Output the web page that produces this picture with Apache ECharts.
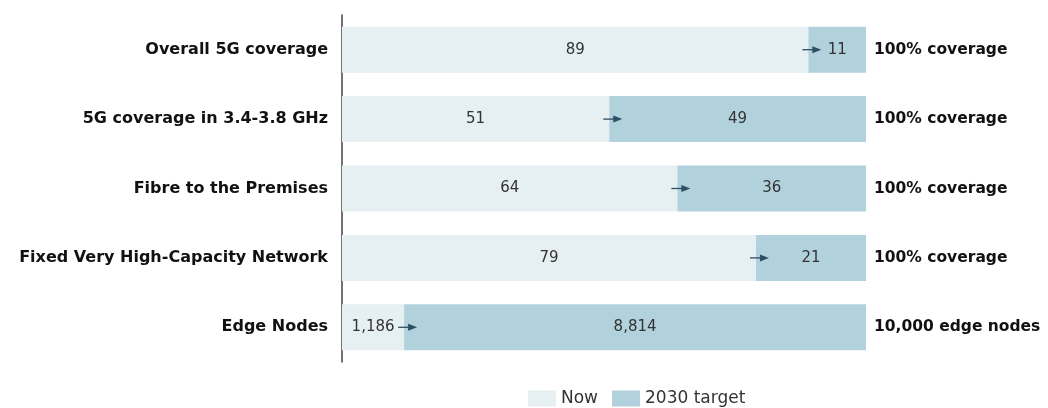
<!DOCTYPE html>
<html>
<head>
<meta charset="utf-8">
<script src="https://cdn.jsdelivr.net/npm/echarts@6/dist/echarts.min.js"></script>
<style>
  html, body { margin: 0; padding: 0; background: #fff; }
  #chart { width: 1048px; height: 408px; }
</style>
</head>
<body>
<div id="chart"></div>
<script>
// data
var categories = [
  'Overall 5G coverage',
  '5G coverage in 3.4-3.8 GHz',
  'Fibre to the Premises',
  'Fixed Very High-Capacity Network',
  'Edge Nodes'
];
var nowValues = [89, 51, 64, 79, 1186];
var targetValues = [11, 49, 36, 21, 8814];
var targetLabels = ['100% coverage', '100% coverage', '100% coverage', '100% coverage', '10,000 edge nodes'];

// each row is drawn as share of its own target total
var nowShare = nowValues.map(function (v, i) { return v / (v + targetValues[i]) * 100; });
var targetShare = targetValues.map(function (v, i) { return v / (nowValues[i] + v) * 100; });

var fontFam = 'DejaVu Sans';

var myChart = echarts.init(document.getElementById('chart'));
myChart.setOption({
  animation: false,
  textStyle: { fontFamily: fontFam },
  grid: { left: 342, right: 182, top: 15, bottom: 46 },
  legend: {
    data: ['Now', '2030 target'],
    top: 385,
    left: 523,
    icon: 'rect',
    itemWidth: 28,
    itemHeight: 16,
    itemGap: 14,
    textStyle: { fontSize: 17, color: '#333', fontFamily: fontFam }
  },
  xAxis: { type: 'value', min: 0, max: 100, show: false },
  yAxis: [
    {
      type: 'category',
      data: categories,
      inverse: true,
      position: 'left',
      axisLine: { show: true, lineStyle: { color: '#444', width: 1.5 } },
      axisTick: { show: false },
      axisLabel: { fontSize: 16, fontWeight: 'bold', color: '#111', margin: 14 }
    },
    {
      type: 'category',
      data: targetLabels,
      inverse: true,
      position: 'right',
      axisLine: { show: false },
      axisTick: { show: false },
      axisLabel: { fontSize: 15.5, fontWeight: 'bold', color: '#111', margin: 8 }
    }
  ],
  series: [
    {
      name: 'Now',
      type: 'bar',
      stack: 'total',
      barWidth: 46,
      data: nowShare,
      itemStyle: { color: '#e6eff2' },
      label: {
        show: true,
        position: 'inside',
        fontSize: 15,
        color: '#333',
        formatter: function (p) { return nowValues[p.dataIndex].toLocaleString('en-US'); }
      }
    },
    {
      name: '2030 target',
      type: 'bar',
      stack: 'total',
      barWidth: 46,
      data: targetShare,
      itemStyle: { color: '#b1d1dc' },
      label: {
        show: true,
        position: 'inside',
        fontSize: 15,
        color: '#333',
        formatter: function (p) { return targetValues[p.dataIndex].toLocaleString('en-US'); }
      }
    },
    {
      // small arrows at the boundary between now and target
      name: 'arrows',
      type: 'custom',
      data: nowShare.map(function (v, i) { return [v, i]; }),
      z: 10,
      renderItem: function (params, api) {
        var p = api.coord([api.value(0), api.value(1)]);
        var x = p[0], y = p[1];
        return {
          type: 'group',
          children: [
            { type: 'line', shape: { x1: x - 6, y1: y, x2: x + 6, y2: y },
              style: { stroke: '#2d4e63', lineWidth: 1.3 } },
            { type: 'polygon', shape: { points: [[x + 4, y - 3.5], [x + 13, y], [x + 4, y + 3.5]] },
              style: { fill: '#2d4e63' } }
          ]
        };
      }
    }
  ]
});
</script>
</body>
</html>
